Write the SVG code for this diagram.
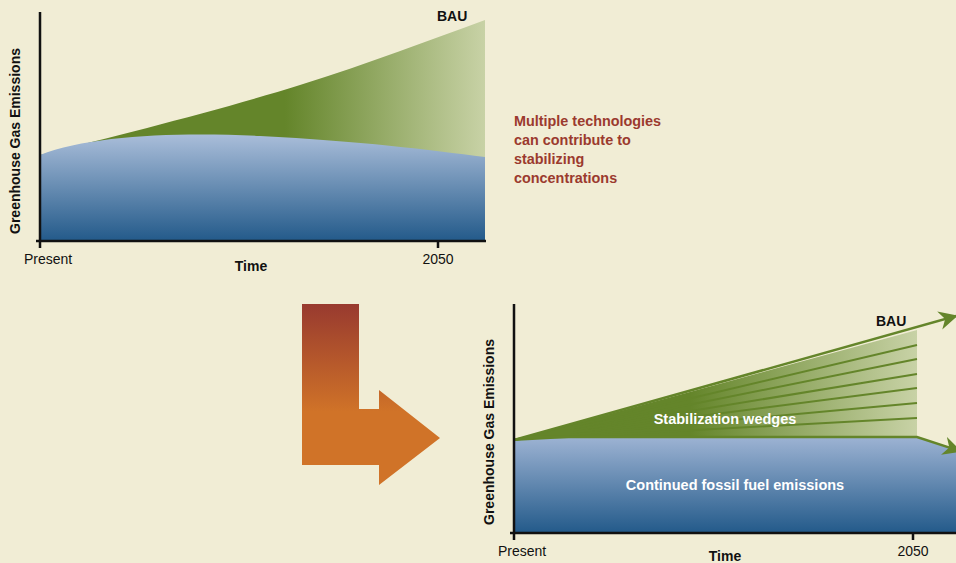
<svg xmlns="http://www.w3.org/2000/svg" width="956" height="563" viewBox="0 0 956 563">
<style>
text{font-family:"Liberation Sans",Arial,sans-serif;fill:#111}
.b{font-weight:bold}
.lab{font-size:14px}
.ax{stroke:#111;stroke-width:2.5;fill:none}
.w{fill:#fff;font-weight:bold;font-size:14.5px}
.red{fill:#9b3a2e;font-weight:bold;font-size:14.4px}
.wl{stroke:#64852a;stroke-width:2;fill:none}
</style>
<defs>
<linearGradient id="blue1" x1="0" y1="135" x2="0" y2="241" gradientUnits="userSpaceOnUse"><stop offset="0" stop-color="#a9bdd9"/><stop offset="1" stop-color="#235a8a"/></linearGradient>
<linearGradient id="green1" x1="285" y1="0" x2="485" y2="0" gradientUnits="userSpaceOnUse"><stop offset="0" stop-color="#64852a"/><stop offset="1" stop-color="#c8d2a6"/></linearGradient>
<linearGradient id="blue2" x1="0" y1="437" x2="0" y2="533" gradientUnits="userSpaceOnUse"><stop offset="0" stop-color="#9db3d3"/><stop offset="1" stop-color="#235a8a"/></linearGradient>
<linearGradient id="green2" x1="690" y1="0" x2="917" y2="0" gradientUnits="userSpaceOnUse"><stop offset="0" stop-color="#64852a"/><stop offset="1" stop-color="#c8d2a6"/></linearGradient>
<linearGradient id="org" x1="0" y1="304" x2="0" y2="412" gradientUnits="userSpaceOnUse"><stop offset="0" stop-color="#983a2f"/><stop offset="1" stop-color="#d07328"/></linearGradient>
<marker id="ah" viewBox="0 0 10 10" refX="9" refY="5" markerWidth="7.5" markerHeight="7.5" orient="auto" markerUnits="strokeWidth"><path d="M0,0 L10,5 L0,10 L3,5 Z" fill="#64852a"/></marker>
</defs>
<rect width="956" height="563" fill="#f1edd5"/>

<g id="top-chart">
<path d="M40,155 C120,135 220,110 300,85 C370,63 430,40 485,20 L485,157 Z" fill="url(#green1)"/>
<path d="M40,155 C90,135 180,132 260,136 C360,141 430,150 485,157 L485,241 L40,241 Z" fill="url(#blue1)"/>
<path class="ax" d="M40,12 L40,248 M36,241 L486,241 M438,241 L438,248"/>
<text class="b" x="437" y="21" font-size="14">BAU</text>
<text class="b lab" transform="translate(20,141) rotate(-90)" text-anchor="middle">Greenhouse Gas Emissions</text>
<text class="lab" x="24" y="264">Present</text>
<text class="b lab" x="251" y="271" text-anchor="middle">Time</text>
<text class="lab" x="438" y="264" text-anchor="middle">2050</text>
</g>

<g id="note">
<text class="red" x="514" y="126">Multiple technologies</text>
<text class="red" x="514" y="145">can contribute to</text>
<text class="red" x="514" y="164">stabilizing</text>
<text class="red" x="514" y="183">concentrations</text>
</g>

<g id="turn-arrow">
<path d="M302,304 L359,304 L359,409 L379,409 L379,390 L440,438 L379,485 L379,465 L302,465 Z" fill="url(#org)"/>
</g>

<g id="bottom-chart">
<path d="M514,440 L917,330 L917,437 L530,437 Z" fill="url(#green2)"/>
<path d="M514,440 L530,437 L917,437 L956,449 L956,533 L514,533 Z" fill="url(#blue2)"/>
<g id="wedge-lines">
<path class="wl" d="M514,440 L917,345 M514,440 L917,359 M514,440 L917,374 M514,440 L917,388 M514,440 L917,403 M514,440 L917,418"/>
</g>
<g id="connectors">
<path d="M514,440 L956,316" stroke="#64852a" stroke-width="2.5" fill="none" marker-end="url(#ah)"/>
<path d="M514,440 L530,437 L917,437 L960,451" stroke="#64852a" stroke-width="2.5" fill="none" marker-end="url(#ah)"/>
</g>
<path class="ax" d="M514,304 L514,540 M510,533 L956,533 M913,533 L913,540"/>
<text class="b" x="876" y="326" font-size="14">BAU</text>
<text class="w" x="725" y="424" text-anchor="middle">Stabilization wedges</text>
<text class="w" x="735" y="490" text-anchor="middle">Continued fossil fuel emissions</text>
<text class="b lab" transform="translate(494,432) rotate(-90)" text-anchor="middle">Greenhouse Gas Emissions</text>
<text class="lab" x="498" y="556">Present</text>
<text class="b lab" x="725" y="561" text-anchor="middle">Time</text>
<text class="lab" x="913" y="556" text-anchor="middle">2050</text>
</g>
</svg>
